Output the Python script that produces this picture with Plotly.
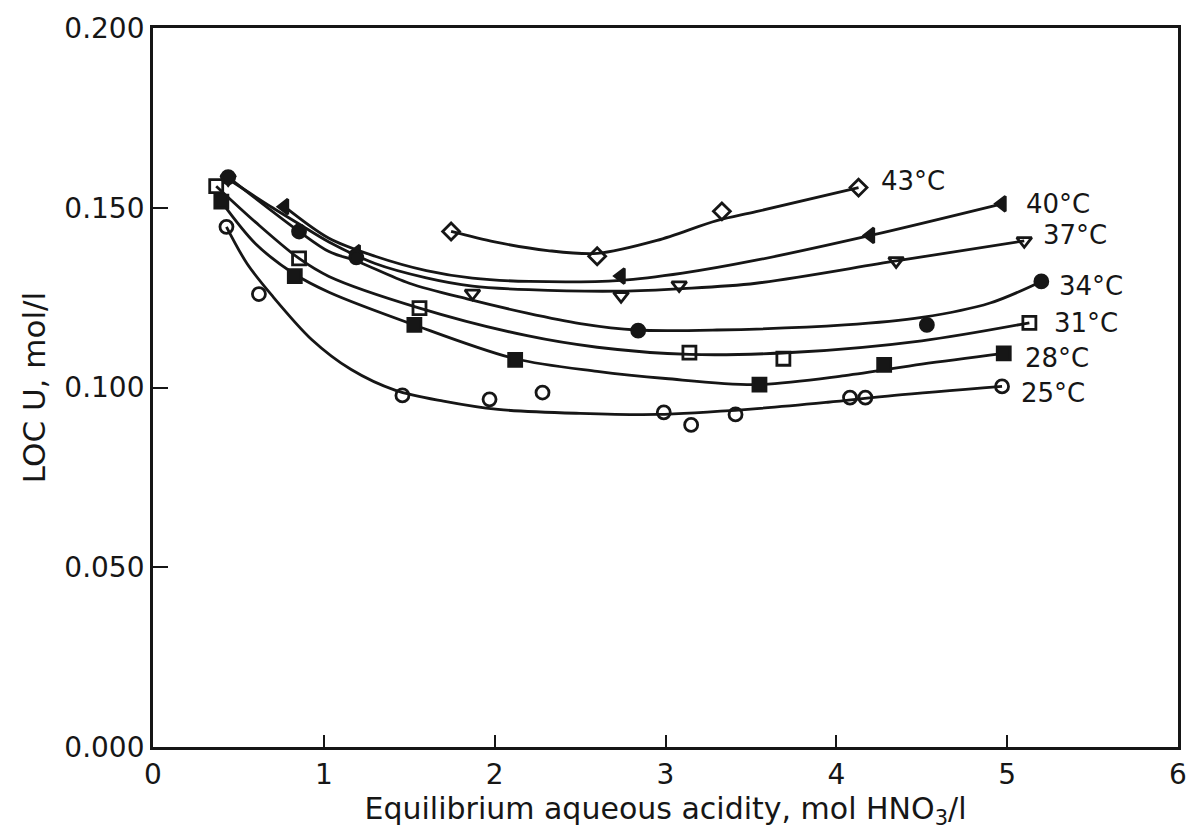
import plotly.graph_objects as go

# ---- data ----
labels = ["43°C", "40°C", "37°C", "34°C", "31°C", "28°C", "25°C"]

# measured points (markers)
pts_43_x = [1.745, 2.60, 3.33, 4.13]
pts_43_y = [0.1434, 0.1365, 0.149, 0.1556]
pts_40_x = [0.77, 1.19, 2.74, 4.20, 4.97]
pts_40_y = [0.1503, 0.1375, 0.1310, 0.1423, 0.1511]
pts_37_x = [0.44, 1.87, 2.74, 3.08, 4.35, 5.10]
pts_37_y = [0.1580, 0.1262, 0.1255, 0.1285, 0.1352, 0.1408]
pts_34_x = [0.44, 0.855, 1.19, 2.84, 4.53, 5.20]
pts_34_y = [0.1585, 0.1434, 0.1362, 0.1158, 0.1174, 0.1295]
pts_31_x = [0.37, 0.855, 1.56, 3.14, 3.69, 5.13]
pts_31_y = [0.1560, 0.1359, 0.1221, 0.1097, 0.1080, 0.1180]
pts_28_x = [0.40, 0.83, 1.53, 2.12, 3.55, 4.28, 4.98]
pts_28_y = [0.1517, 0.1310, 0.1174, 0.1077, 0.1008, 0.1063, 0.1095]
pts_25_x = [0.43, 0.62, 1.46, 1.97, 2.28, 2.99, 3.15, 3.41, 4.08, 4.17, 4.97]
pts_25_y = [0.1447, 0.1260, 0.0978, 0.0967, 0.0986, 0.0931, 0.0896, 0.0925, 0.0972, 0.0972, 0.1003]

# drawn smooth curves
crv_43_x = [1.745, 2.0, 2.31, 2.6, 2.95, 3.3, 3.53, 4.13]
crv_43_y = [0.1434, 0.1405, 0.1381, 0.1373, 0.1409, 0.1464, 0.1489, 0.1556]
crv_40_x = [0.77, 1.03, 1.3, 1.6, 1.87, 2.2, 2.74, 3.1, 3.53, 4.2, 4.97]
crv_40_y = [0.1503, 0.1415, 0.1365, 0.1325, 0.1304, 0.1295, 0.1298, 0.1318, 0.1354, 0.1423, 0.1511]
crv_37_x = [0.44, 0.7, 0.855, 1.03, 1.3, 1.6, 1.87, 2.2, 2.74, 3.1, 3.53, 4.35, 5.10]
crv_37_y = [0.1580, 0.1500, 0.1455, 0.1405, 0.1345, 0.1305, 0.1282, 0.1272, 0.1268, 0.1275, 0.1290, 0.1352, 0.1408]
crv_34_x = [0.44, 0.855, 1.03, 1.19, 1.5, 1.85, 2.19, 2.5, 2.83, 3.3, 4.05, 4.5, 4.9, 5.20]
crv_34_y = [0.1585, 0.1434, 0.1378, 0.1352, 0.1290, 0.1245, 0.1207, 0.1178, 0.1160, 0.1160, 0.1174, 0.1195, 0.1235, 0.1295]
crv_31_x = [0.37, 0.6, 0.855, 1.03, 1.56, 2.19, 2.6, 3.14, 3.76, 4.5, 5.13]
crv_31_y = [0.1560, 0.1460, 0.1359, 0.1309, 0.1221, 0.1144, 0.1112, 0.1092, 0.1098, 0.1130, 0.1180]
crv_28_x = [0.40, 0.6, 0.83, 1.03, 1.53, 2.12, 2.6, 3.0, 3.53, 4.05, 4.5, 4.98]
crv_28_y = [0.1517, 0.1400, 0.1315, 0.1265, 0.1174, 0.1080, 0.1045, 0.1025, 0.1008, 0.1033, 0.1065, 0.1095]
crv_25_x = [0.43, 0.55, 0.70, 0.93, 1.16, 1.42, 1.7, 2.02, 2.5, 2.95, 3.5, 3.95, 4.34, 4.97]
crv_25_y = [0.1447, 0.1345, 0.1254, 0.1133, 0.1050, 0.0992, 0.0962, 0.0939, 0.0928, 0.0925, 0.0940, 0.0959, 0.0978, 0.1003]

# label anchor positions
label_x = [4.25, 5.10, 5.20, 5.29, 5.26, 5.09, 5.07]
label_y = [0.1575, 0.1511, 0.1423, 0.1282, 0.1180, 0.1083, 0.0986]

x_ticks = [0, 1, 2, 3, 4, 5, 6]
y_ticks = [0.0, 0.05, 0.10, 0.15, 0.20]

# ---- styling ----
INK = "#161616"
FONT = "DejaVu Sans"
series = [
    (pts_43_x, pts_43_y, crv_43_x, crv_43_y, "diamond-open"),
    (pts_40_x, pts_40_y, crv_40_x, crv_40_y, "triangle-left"),
    (pts_37_x, pts_37_y, crv_37_x, crv_37_y, "triangle-down-open"),
    (pts_34_x, pts_34_y, crv_34_x, crv_34_y, "circle"),
    (pts_31_x, pts_31_y, crv_31_x, crv_31_y, "square-open"),
    (pts_28_x, pts_28_y, crv_28_x, crv_28_y, "square"),
    (pts_25_x, pts_25_y, crv_25_x, crv_25_y, "circle-open"),
]

fig = go.Figure()
for (px, py, cx, cy, sym), name in zip(series, labels):
    fig.add_trace(go.Scatter(
        x=cx, y=cy, mode="lines", name=name, showlegend=False,
        line=dict(color=INK, width=2.8, shape="spline", smoothing=0.9),
        hoverinfo="skip"))
    fig.add_trace(go.Scatter(
        x=px, y=py, mode="markers", name=name, showlegend=False,
        marker=dict(symbol=sym, size=13, color=INK,
                    line=dict(color=INK, width=2.8))))

for name, lx, ly in zip(labels, label_x, label_y):
    fig.add_annotation(x=lx, y=ly, text=name, showarrow=False,
                       xanchor="left", yanchor="middle",
                       font=dict(family=FONT, size=26, color=INK))

fig.update_xaxes(
    range=[0, 6], tickvals=x_ticks, ticktext=[str(v) for v in x_ticks],
    ticks="inside", ticklen=12, tickwidth=2, tickcolor=INK,
    showline=True, linecolor=INK, linewidth=2.8, mirror=True,
    showgrid=False, zeroline=False,
    tickfont=dict(family=FONT, size=28, color=INK),
    title=dict(text="Equilibrium aqueous acidity, mol HNO<sub>3</sub>/l",
               font=dict(family=FONT, size=30, color=INK), standoff=8))
fig.update_yaxes(
    range=[0, 0.2], tickvals=y_ticks, tickformat=".3f",
    ticks="inside", ticklen=15, tickwidth=2, tickcolor=INK,
    showline=True, linecolor=INK, linewidth=2.8, mirror=True,
    showgrid=False, zeroline=False,
    tickfont=dict(family=FONT, size=28, color=INK),
    title=dict(text="LOC U, mol/l",
               font=dict(family=FONT, size=31, color=INK), standoff=10))

fig.update_layout(
    width=1199, height=836,
    margin=dict(l=153, r=14, t=22, b=89),
    paper_bgcolor="white", plot_bgcolor="white",
)

fig.write_html("out.html")
